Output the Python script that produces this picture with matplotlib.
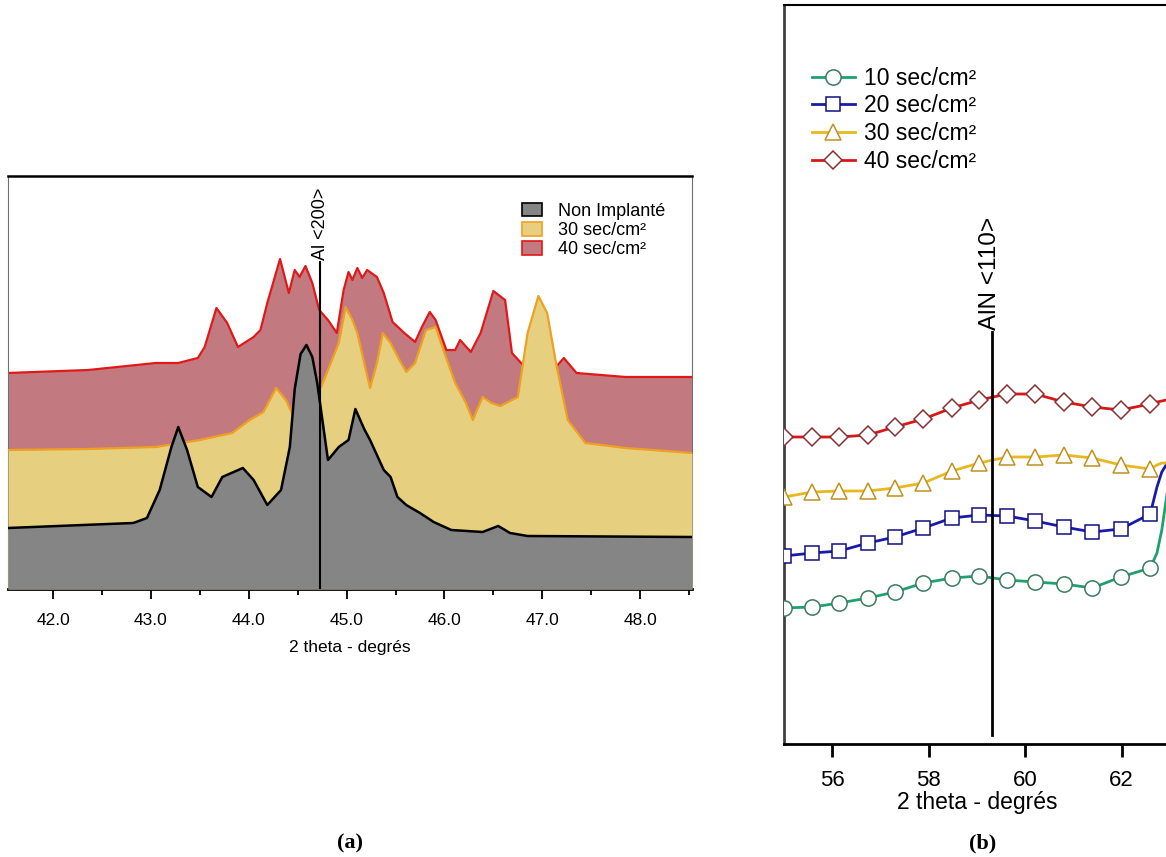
import numpy as np
import matplotlib.pyplot as plt
from matplotlib.patches import Patch
from matplotlib.lines import Line2D

plt.rcParams['font.family'] = ['Liberation Sans', 'DejaVu Sans']

# ---- (a) Al <200> region, intensity in arbitrary units
x_red = [41.54, 42.36, 43.05, 43.28, 43.48, 43.55, 43.67, 43.78, 43.89, 44.05, 44.12, 44.19,
         44.32, 44.41, 44.47, 44.52, 44.58, 44.65, 44.72, 44.81, 44.90, 44.97, 45.02, 45.06,
         45.11, 45.16, 45.21, 45.31, 45.38, 45.47, 45.59, 45.70, 45.77, 45.85, 45.91, 46.02,
         46.11, 46.16, 46.27, 46.37, 46.50, 46.62, 46.69, 46.83, 47.14, 47.22, 47.35, 47.85, 48.53]
y_red = [216, 219, 226, 226, 231, 242, 281, 266, 242, 252, 259, 286,
         330, 296, 319, 312, 323, 306, 279, 269, 256, 299, 317, 309,
         321, 311, 319, 312, 296, 267, 256, 247, 262, 277, 269, 239,
         239, 249, 237, 256, 298, 289, 236, 221, 222, 231, 216, 212, 212]

x_yel = [41.54, 42.36, 43.05, 43.50, 43.83, 44.01, 44.15, 44.28, 44.38, 44.47, 44.60, 44.74,
         44.92, 44.99, 45.06, 45.11, 45.18, 45.24, 45.31, 45.37, 45.45, 45.54, 45.61, 45.70,
         45.81, 45.91, 46.00, 46.11, 46.22, 46.29, 46.39, 46.48, 46.57, 46.75, 46.85, 46.96,
         47.05, 47.14, 47.26, 47.44, 47.85, 48.53]
y_yel = [139, 140, 142, 149, 156, 169, 177, 201, 189, 170, 190, 202,
         246, 282, 269, 256, 226, 201, 226, 256, 246, 229, 217, 226,
         259, 262, 236, 206, 186, 169, 192, 186, 183, 192, 256, 293,
         276, 226, 169, 146, 141, 136]

x_grey = [41.54, 42.82, 42.96, 43.09, 43.21, 43.28, 43.37, 43.48, 43.62, 43.73, 43.94, 44.05,
          44.19, 44.33, 44.42, 44.47, 44.53, 44.59, 44.65, 44.70, 44.78, 44.81, 44.92, 45.02,
          45.09, 45.18, 45.24, 45.38, 45.45, 45.52, 45.61, 45.75, 45.89, 46.07, 46.39, 46.55,
          46.67, 46.85, 48.53]
y_grey = [61, 66, 71, 99, 142, 162, 139, 102, 92, 112, 121, 109,
          84, 99, 142, 200, 235, 244, 232, 206, 150, 129, 142, 149,
          180, 160, 149, 119, 112, 92, 84, 76, 67, 59, 57, 63,
          56, 53, 52]

labels_a = ['Non Implanté', '30 sec/cm²', '40 sec/cm²']
ticks_a = [42.0, 43.0, 44.0, 45.0, 46.0, 47.0, 48.0]
al_200 = 44.73

# ---- (b) AlN <110> region
x_mark = [55.0, 55.59, 56.15, 56.74, 57.30, 57.89, 58.48, 59.05, 59.62, 60.21, 60.80, 61.39, 61.98, 62.59]
y10 = [136, 137, 141, 146, 152, 161, 166, 168, 164, 162, 160, 156, 167, 176]
y20 = [188, 191, 193, 201, 207, 216, 226, 229, 228, 223, 217, 212, 215, 230]
y30 = [247, 252, 253, 253, 256, 261, 273, 281, 287, 287, 289, 286, 279, 275]
y40 = [307, 307, 307, 309, 317, 325, 336, 344, 350, 350, 342, 337, 334, 340]
# unmarked tail of each scan, beyond the last marker
x_tail = [62.73, 62.83, 62.92, 63.0]
y10_tail = [191, 214, 244, 270]
y20_tail = [257, 272, 279, 290]
y30_tail = [279, 281, 281, 282]
y40_tail = [342, 343, 344, 344]
labels_b = ['10 sec/cm²', '20 sec/cm²', '30 sec/cm²', '40 sec/cm²']
ticks_b = [56, 58, 60, 62]
aln_110 = 59.31

fig = plt.figure(figsize=(11.66, 8.57), dpi=100)

# ---------------- panel (a)
ax = fig.add_axes([8 / 1166, (857 - 589) / 857, 684 / 1166, 413 / 857])
ax.fill_between(x_red, y_red, 0, color='#c27a80', lw=0, zorder=1)
ax.plot(x_red, y_red, color='#e01818', lw=1.6, zorder=2)
ax.fill_between(x_yel, y_yel, 0, color='#e6cf7e', lw=0, zorder=3)
ax.plot(x_yel, y_yel, color='#f0a020', lw=1.6, zorder=4)
ax.fill_between(x_grey, y_grey, 0, color='#858585', lw=0, zorder=5)
ax.plot(x_grey, y_grey, color='black', lw=1.8, zorder=6)
ax.plot([al_200, al_200], [0, 327], color='black', lw=1.5, zorder=7)
ax.text(al_200, 329, 'Al <200>', rotation=90, ha='center', va='bottom', fontsize=13, zorder=8)

ax.set_xlim(41.54, 48.53)
ax.set_ylim(0, 413)
ax.set_yticks([])
ax.set_xticks(ticks_a)
ax.set_xticklabels(['%.1f' % t for t in ticks_a], fontsize=12.5)
ax.set_xticks(np.arange(42.5, 48.6, 1.0), minor=True)
ax.tick_params(axis='x', which='major', direction='out', length=7, width=1.3, pad=10)
ax.tick_params(axis='x', which='minor', direction='out', length=4, width=1.3)
ax.set_xlabel('2 theta - degrés', fontsize=12.5, labelpad=9)
ax.spines['bottom'].set_linewidth(2)
ax.spines['top'].set_linewidth(1.8)
ax.spines['left'].set_color('#707070')
ax.spines['right'].set_color('#707070')

handles_a = [Patch(facecolor='#858585', edgecolor='black', lw=1.2),
             Patch(facecolor='#e6cf7e', edgecolor='#f0a020', lw=1.2),
             Patch(facecolor='#c27a80', edgecolor='#e01818', lw=1.2)]
ax.legend(handles_a, labels_a, loc='upper right', bbox_to_anchor=(0.985, 0.975), frameon=False,
          fontsize=13, handlelength=1.1, handleheight=0.8, handletextpad=0.9, labelspacing=0.12)

# ---------------- panel (b)
bx = fig.add_axes([784 / 1166, (857 - 744) / 857, 386 / 1166, 739 / 857])
series = [(y10, y10_tail, '#20a070', '#3a7a60', 'o', 11),
          (y20, y20_tail, '#1a1aa8', '#101080', 's', 10),
          (y30, y30_tail, '#e8b820', '#c09020', '^', 12),
          (y40, y40_tail, '#d81818', '#8a3030', 'D', 9)]
handles_b = []
for ys, tail, c, ec, m, ms in series:
    xs = x_mark + x_tail
    bx.plot(xs, ys + tail, color=c, lw=2, zorder=2)
    bx.plot(x_mark, ys, ls='none', marker=m, ms=ms, mfc='white', mec=ec, mew=1.1, zorder=3)
    handles_b.append(Line2D([], [], color=c, lw=2, marker=m, ms=ms, mfc='white', mec=ec, mew=1.1))
bx.plot([aln_110, aln_110], [9, 412], color='black', lw=2, zorder=4)
bx.text(aln_110 - 0.05, 414, 'AlN <110>', rotation=90, ha='center', va='bottom', fontsize=17.5, zorder=5)

bx.set_xlim(55.0, 63.0)
bx.set_ylim(0, 739)
bx.set_yticks([])
bx.set_xticks(ticks_b)
bx.set_xticklabels([str(t) for t in ticks_b], fontsize=16)
bx.tick_params(axis='x', direction='out', length=9, width=2, pad=10)
bx.set_xlabel('2 theta - degrés', fontsize=16.5, labelpad=0)
bx.spines['bottom'].set_linewidth(2)
bx.spines['left'].set_linewidth(2)
bx.spines['left'].set_color('#404040')
bx.spines['top'].set_linewidth(1.5)
bx.spines['right'].set_visible(False)
bx.legend(handles_b, labels_b, loc='upper left', bbox_to_anchor=(0.03, 0.938), frameon=False,
          fontsize=16.5, handlelength=1.9, handletextpad=0.4, labelspacing=0.2, borderpad=0.2)

fig.text(350 / 1166, 1 - 843 / 857, '(a)', family='Liberation Serif', weight='bold',
         fontsize=16, ha='center', va='center')
fig.text(983 / 1166, 1 - 843 / 857, '(b)', family='Liberation Serif', weight='bold',
         fontsize=16, ha='center', va='center')

fig.savefig('out.png', dpi=100)
